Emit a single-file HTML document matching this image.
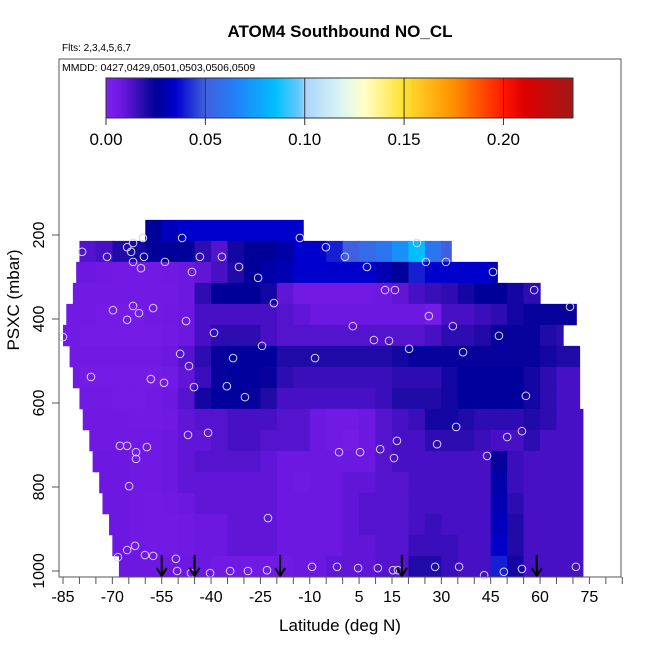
<!DOCTYPE html>
<html><head><meta charset="utf-8"><style>
html,body{margin:0;padding:0;background:#fff;}
svg text{font-family:"Liberation Sans",sans-serif;}
</style></head><body>
<svg id="chart" width="650" height="650" viewBox="0 0 650 650" xmlns="http://www.w3.org/2000/svg">
<text x="340" y="37" text-anchor="middle" font-size="17" font-weight="bold">ATOM4 Southbound NO_CL</text>
<text x="62" y="51" font-size="10">Flts: 2,3,4,5,6,7</text>
<g id="heat"></g>
<g id="pts"></g>
<g id="arrows"></g>
<rect x="59" y="59" width="562" height="518" fill="none" stroke="#555" stroke-width="1"/>
<text x="62" y="71" font-size="10.5">MMDD: 0427,0429,0501,0503,0506,0509</text>
<g id="cbar"></g>
<g id="xaxis"></g>
<g id="yaxis"></g>
<text x="340" y="631" text-anchor="middle" font-size="17">Latitude (deg N)</text>
<text x="0" y="0" transform="translate(19,300) rotate(-90)" text-anchor="middle" font-size="17">PSXC (mbar)</text>
</svg>
<script>
// ---- data ----
const latColStart = -85, latColWidth = 5;
const rowPressureTop = [164,214,264,314,364,414,464,514,564,614,664,714,764,814,864,914,964];
const rowLatStart = [-61,-80,-81,-82,-84,-85,-83,-82,-80,-79,-77,-76,-74,-73,-71,-70,-68];
const rowLatEnd = [-12,33,47,60,71,67,72,72,72,73,73,73,73,73,73,73,73];
const rowValues = [
[0,0,0,0,0,25,32,35,35,35,35,35,35,35,35,0,0,0,0,0,0,0,0,0,0,0,0,0,0,0,0,0],
[12,12,14,20,22,25,25,25,18,12,22,25,25,28,35,35,40,50,55,60,70,85,60,50,0,0,0,0,0,0,0,0],
[8,8,7,6,6,6,7,8,10,14,20,25,28,30,35,35,35,35,35,30,25,40,35,35,35,35,30,0,0,0,0,0],
[6,6,6,6,6,6,6,8,18,25,25,25,22,10,6,6,6,6,6,8,10,14,16,18,22,25,25,22,18,0,0,0],
[6,6,5,5,5,6,7,8,14,14,14,14,14,12,10,8,8,8,8,8,8,8,5,14,14,16,18,22,24,24,24,24],
[6,5,5,5,5,5,6,8,14,18,18,18,14,12,12,12,12,12,12,12,12,12,14,18,18,20,24,24,24,20,18,0],
[6,6,6,6,6,6,8,12,18,24,26,26,26,20,20,20,20,20,20,20,22,24,24,24,24,24,24,24,24,22,20,20],
[6,5,5,5,5,5,6,10,16,24,26,26,24,18,16,16,16,16,16,16,18,18,18,22,26,26,26,26,22,18,14,14],
[6,6,6,5,5,6,8,12,22,26,26,24,20,14,14,14,14,14,14,16,20,20,20,22,26,26,26,26,22,18,14,14],
[7,7,7,7,6,6,7,10,12,12,14,14,14,12,12,8,6,6,8,12,14,16,22,22,20,18,18,18,20,18,14,14],
[7,7,7,7,7,7,8,10,10,12,14,14,12,12,12,8,6,5,8,12,14,14,18,18,18,16,14,14,18,14,14,14],
[8,8,8,8,7,7,8,10,12,12,12,12,10,8,8,8,8,8,8,12,14,14,14,14,14,14,24,16,14,14,14,14],
[8,8,8,8,7,7,8,10,10,10,10,10,10,8,7,8,8,10,10,12,12,14,14,14,14,14,28,16,14,14,14,14],
[8,8,8,8,7,6,7,8,10,10,10,10,10,8,8,8,8,10,12,12,12,14,14,14,14,14,30,18,14,14,14,14],
[8,8,8,8,7,6,6,7,8,8,10,10,10,8,8,8,8,10,12,12,12,14,16,14,14,14,32,20,14,14,14,14],
[8,8,8,8,7,6,6,7,8,8,10,10,10,8,8,8,8,10,10,12,12,16,16,16,14,14,34,20,14,14,14,14],
[8,8,8,8,8,8,8,8,8,6,6,6,6,7,8,8,10,10,10,12,12,20,20,16,14,14,40,22,14,14,14,14]
];
const pointLat = [-60.7,-48.8,-13,-79.2,-65.5,-63.7,-64.3,-71.6,-60.4,-43.4,-36.7,-5.1,0.7,22.6,-63.7,-54,-61.3,-45.8,-31.5,-25.7,7.4,25.3,31.4,45.7,12.9,15.9,58.2,-20.9,-69.8,-63.7,-61.9,-57.6,-65.5,-47.6,26.2,69.1,3.1,33.5,-85,-39.1,9.5,14.1,47.5,-24.5,20.2,36.6,-49.4,-33.3,-8.4,-46.7,-76.5,-58.3,-54.3,-45.2,-35.2,-29.7,55.7,-47,-40.9,34.5,50,54.5,-67.7,-65.5,-62.8,-59.5,-62.8,-1.1,5.3,11.4,16.5,15.6,28.7,43.9,-64.9,-22.7,-68.3,-65.5,-63.1,-60.1,-57.6,-50.7,-50.3,-46.1,-40.3,-34.2,-28.8,-23,-9.3,-1.7,4.7,10.7,15.3,16.8,28.1,35.4,43,49,54.5,70.9];
const pointP = [207,207,207,240,229,219,240,252,252,252,252,229,252,219,264,264,279,288,276,302,276,264,264,288,331,331,331,362,379,369,386,374,402,405,393,371,417,417,443,433,450,452,440,464,471,479,483,493,493,512,538,543,552,562,560,586,583,676,671,657,681,667,702,702,717,705,733,717,717,710,690,731,698,726,798,874,967,950,940,962,964,971,1000,1005,1005,1000,1000,998,990,990,993,993,998,998,990,990,1010,1002,995,990];
const arrowLat = [-55,-45,-19,18,59];
const xTickLabels = [-85,-70,-55,-40,-25,-10,5,15,30,45,60,75];
const yTickLabels = [200,400,600,800,1000];
const cbarTicks = [0.00,0.05,0.10,0.15,0.20];
const cbarMax = 0.235;
// ---- scales ----
const NS='http://www.w3.org/2000/svg';
const xS = lat => 63 + (lat + 85) * 3.29;
const yS = p => 235 + (p - 200) * 0.42;
const stops = [[0,'#8020ee'],[0.008,'#6c18e0'],[0.014,'#4810c4'],[0.02,'#200aa8'],[0.025,'#000098'],[0.035,'#0000cc'],[0.045,'#2a40d8'],[0.05,'#4060e0'],[0.065,'#2080f8'],[0.085,'#00bfff'],[0.098,'#70c8ff'],[0.1,'#a8d4ff'],[0.12,'#e0f8f0'],[0.13,'#ffffc8'],[0.15,'#ffe030'],[0.175,'#ff9000'],[0.2,'#ff1800'],[0.21,'#e00000'],[0.235,'#a01818']];
function hex(h){return [1,3,5].map(i=>parseInt(h.substr(i,2),16));}
function cmap(v){
  if(v<=0) return stops[0][1];
  for(let i=1;i<stops.length;i++){
    if(v<=stops[i][0]){const a=stops[i-1],b=stops[i];const t=(v-a[0])/(b[0]-a[0]);
      const ca=hex(a[1]),cb=hex(b[1]);return 'rgb('+ca.map((c,j)=>Math.round(c+(cb[j]-c)*t)).join(',')+')';}
  }
  return stops[stops.length-1][1];
}
function mk(tag,attrs,parent){const e=document.createElementNS(NS,tag);for(const k in attrs)e.setAttribute(k,attrs[k]);parent.appendChild(e);return e;}
// heatmap
const heat=document.getElementById('heat');
rowValues.forEach((row,i)=>{
  row.forEach((v,k)=>{
    if(!v) return;
    const l0=Math.max(latColStart+k*latColWidth,rowLatStart[i]);
    const l1=Math.min(latColStart+(k+1)*latColWidth,rowLatEnd[i]);
    if(l1<=l0) return;
    const r=mk('rect',{x:xS(l0),y:yS(rowPressureTop[i]),width:xS(l1)-xS(l0)+0.6,height:yS(rowPressureTop[i]+50)-yS(rowPressureTop[i])+0.4,fill:cmap(v/1000)},heat);
    
    
  });
});
// points
const pts=document.getElementById('pts');
pointLat.forEach((lat,i)=>{
  const c=mk('circle',{cx:xS(lat),cy:yS(pointP[i]),r:3.8,fill:'none',stroke:'#d8d0ff','stroke-width':1},pts);
  
  
});
// arrows
const arr=document.getElementById('arrows');
arrowLat.forEach(lat=>{
  const x=xS(lat);
  const g=mk('g',{},arr);
  
  
  mk('line',{x1:x,y1:555,x2:x,y2:576,stroke:'#000','stroke-width':2},g);
  mk('polyline',{points:(x-5)+',568 '+x+',576 '+(x+5)+',568',fill:'none',stroke:'#000','stroke-width':2},g);
});
// x axis
const xa=document.getElementById('xaxis');
for(let lat=-85;lat<=85;lat+=5){mk('line',{x1:xS(lat),y1:577,x2:xS(lat),y2:584,stroke:'#555'},xa);}
xTickLabels.forEach(v=>{const t=mk('text',{x:xS(v),y:602,'text-anchor':'middle','font-size':16},xa);t.textContent=v;
  });
// y axis
const ya=document.getElementById('yaxis');
yTickLabels.forEach(v=>{const y=yS(v);mk('line',{x1:52,y1:y,x2:59,y2:y,stroke:'#555'},ya);
  const t=mk('text',{x:0,y:0,transform:'translate(44,'+y+') rotate(-90)','text-anchor':'middle','font-size':16},ya);t.textContent=v;
  });
// colorbar
const cb=document.getElementById('cbar');
const cx0=106,cx1=573,cy0=78,cy1=118;
const cbx=v=>cx0+(v/cbarMax)*(cx1-cx0);
const N=235;
for(let i=0;i<N;i++){const v0=i*cbarMax/N;mk('rect',{x:cbx(v0),y:cy0,width:(cx1-cx0)/N+0.5,height:cy1-cy0,fill:cmap(v0+cbarMax/N/2)},cb);}
mk('rect',{x:cx0,y:cy0,width:cx1-cx0,height:cy1-cy0,fill:'none',stroke:'#333'},cb);
cbarTicks.forEach(v=>{const x=cbx(v);
  if(v>0) mk('line',{x1:x,y1:cy0,x2:x,y2:cy1,stroke:'#333'},cb);
  mk('line',{x1:x,y1:cy1,x2:x,y2:cy1+7,stroke:'#333'},cb);
  const t=mk('text',{x:x,y:145,'text-anchor':'middle','font-size':17},cb);t.textContent=v.toFixed(2);
  });
</script>
</body></html>
